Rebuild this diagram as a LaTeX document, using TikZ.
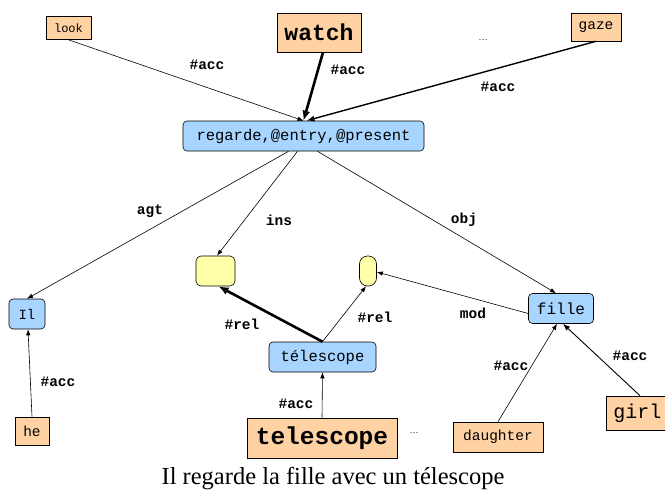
\documentclass[tikz,border=0pt]{standalone}
\usepackage{fontspec}
\setmainfont{Liberation Serif}
\setmonofont{Liberation Mono}
\usetikzlibrary{arrows.meta}
\definecolor{orng}{HTML}{FFD2A3}
\definecolor{blu}{HTML}{A8D5FF}
\definecolor{yel}{HTML}{FFFFAA}
\begin{document}
\begin{tikzpicture}[x=1pt,y=-1pt,
  word/.style={draw, fill=orng, inner sep=0pt, line width=0.6pt},
  sem/.style={draw, fill=blu, rounded corners=4pt, inner sep=0pt, line width=0.6pt},
  hole/.style={draw, fill=yel, inner sep=0pt, line width=0.6pt},
  lab/.style={font=\fontsize{14.5}{16}\selectfont\ttfamily\bfseries, inner sep=0pt},
  thin/.style={line width=0.6pt, -{Latex[length=6pt,width=4.5pt]}},
  mid/.style={line width=1.4pt, -{Latex[length=8pt,width=6pt]}},
  thick/.style={line width=2.6pt, -{Latex[length=10pt,width=8pt]}},
  ]
\useasboundingbox (0,0) rectangle (665,490);
\fill[white] (0,0) rectangle (665,490);
% word nodes
\node[word, minimum width=45pt, minimum height=23pt, font=\fontsize{12}{14}\selectfont\ttfamily] (look) at (68.5,28) {look};
\node[word, minimum width=84pt, minimum height=39pt, font=\fontsize{23}{26}\selectfont\ttfamily\bfseries] (watch) at (319,32.5) {watch};
\node[word, minimum width=50pt, minimum height=28pt, font=\fontsize{14.5}{16}\selectfont\ttfamily] (gaze) at (596,27) {gaze};
\node[word, minimum width=34pt, minimum height=28pt, font=\fontsize{14.5}{16}\selectfont\ttfamily] (he) at (32,431) {he};
\node[word, minimum width=150pt, minimum height=40pt, font=\fontsize{24.5}{28}\selectfont\ttfamily\bfseries] (telescope) at (322,438) {telescope};
\node[word, minimum width=90pt, minimum height=30pt, font=\fontsize{14.5}{16}\selectfont\ttfamily] (daughter) at (498,437) {daughter};
\node[word, minimum width=66pt, minimum height=34pt, font=\fontsize{20}{22}\selectfont\ttfamily] (girl) at (639,413) {girl\hspace*{3pt}};
% semantic nodes
\node[sem, minimum width=241pt, minimum height=30pt, font=\fontsize{15.5}{18}\selectfont\ttfamily] (reg) at (303.5,136) {regarde,@entry,@present};
\node[sem, minimum width=36pt, minimum height=30pt, font=\fontsize{14}{16}\selectfont\ttfamily] (il) at (27,314) {Il};
\node[sem, minimum width=65pt, minimum height=30pt, font=\fontsize{16}{18}\selectfont\ttfamily] (fille) at (561,308.5) {fille};
\node[sem, minimum width=107pt, minimum height=30pt, font=\fontsize{15.5}{18}\selectfont\ttfamily] (tel) at (322.5,357) {télescope};
\node[hole, rounded corners=5pt, minimum width=39pt, minimum height=30pt] (sq) at (215.5,271) {};
\node[hole, rounded corners=8pt, minimum width=17pt, minimum height=30pt] (pill) at (368,271) {};
% dots
\node[font=\fontsize{9}{10}\selectfont, inner sep=0pt] (dots1) at (483,40) {…};
\node[font=\fontsize{9}{10}\selectfont, inner sep=0pt] (dots2) at (414,433) {…};
% edges
\draw[thin] (look.south) -- (reg.north);
\draw[thick] ([xshift=4pt]watch.south) -- (reg.north);
\draw[mid] (gaze.south) -- ([xshift=3pt]reg.north);
\draw[thin] ([xshift=-15pt]reg.south) -- (il.north);
\draw[thin] ([xshift=-6pt]reg.south) -- ([xshift=1.5pt]sq.north);
\draw[thin] ([xshift=14pt]reg.south) -- ([xshift=-5pt]fille.north);
\draw[thin] ([yshift=-5pt]fille.west) -- ([yshift=-1pt]pill.east);
\draw[thick] (tel.north) -- ([xshift=3pt]sq.south);
\draw[thin] (tel.north) -- ([xshift=-2pt]pill.south);
\draw[thin] (he.north) -- ([xshift=1pt]il.south);
\draw[thin] (telescope.north) -- (tel.south);
\draw[thin] (daughter.north) -- ([xshift=-4pt]fille.south);
\draw[line width=0.9pt, -{Latex[length=7pt,width=5.5pt]}] ([xshift=1pt]girl.north) -- ([xshift=2pt]fille.south);
% labels
\node[lab] (l1) at (207,65) {\#acc};
\node[lab] (l2) at (348,70) {\#acc};
\node[lab] (l3) at (498,87) {\#acc};
\node[lab] (l4) at (150,211) {agt};
\node[lab] (l5) at (279,220) {ins};
\node[lab] (l6) at (464,220) {obj};
\node[lab] (l7) at (242,324) {\#rel};
\node[lab] (l8) at (375,317) {\#rel};
\node[lab] (l9) at (473,313) {mod};
\node[lab] (l10) at (58,382) {\#acc};
\node[lab] (l11) at (296,404) {\#acc};
\node[lab] (l12) at (511,366) {\#acc};
\node[lab] (l13) at (630,356) {\#acc};
% caption
\node[font=\fontsize{24.5}{28}\selectfont, inner sep=0pt] (cap) at (333,479) {Il regarde la fille avec un télescope};
\end{tikzpicture}
\end{document}
